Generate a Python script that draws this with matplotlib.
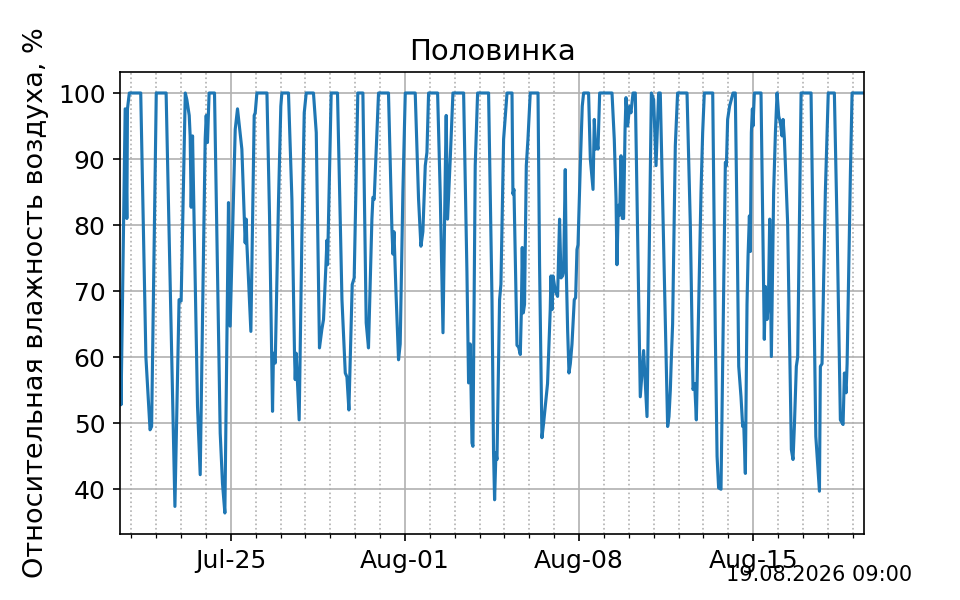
import numpy as np
import pandas as pd
import matplotlib
matplotlib.use('Agg')
import matplotlib.pyplot as plt
import matplotlib.dates as mdates

# hours since 2026-07-20 00:00 and relative humidity (%)
hours = [13, 14, 18, 19.6, 20.2, 22, 33, 38, 42, 43.5, 48, 57.5, 66, 70, 72, 76, 77.5, 79.8, 80.7, 81.7,
         83, 87.8, 90.4, 95.2, 96.2, 97.4, 99, 104.2, 109.7, 111.9, 114.2, 117.7, 119.3,
         124.2, 126.4, 130.6, 133.8, 134.8, 135.4, 139.3, 142.5, 143.5, 145.1, 154.8, 157.3, 160.2, 161.1,
         162.8, 166, 168.2, 169.2, 175.6, 178.9, 181.4, 182.1, 183, 185.9, 188.5, 190.8, 192.7, 199.7,
         202.4, 205.5, 207.8, 209.4, 211.7, 212.7, 213.3, 216.8, 222.9, 227.2, 230.4, 232, 233.9, 237.1,
         239, 242.5,
         247.4, 250.6, 252.8, 256.1, 257.1, 258.3, 262.5, 272.1, 275.4, 276.4, 277.4, 279.3, 281.8, 283.4,
         286, 288.3, 297.9, 301.1, 303.4, 305.3, 307.6, 309.2, 310.8, 319.5, 322, 324.7, 326.9, 327.8,
         329.1, 331.7, 334.3, 344.6, 347.8, 349.4, 351, 352.7, 353.6, 355.8, 358.1,
         368.7, 372, 373.5, 374.5, 375.8, 376.8, 379.3, 380.6, 383.2, 386.5, 391.3, 392.2, 393.2, 396.1,
         397.7, 399.3, 400.3, 401.2, 402.2, 403.4, 405.1, 406.7, 408.9, 416.4, 417.9, 420.2, 421.8, 424.4,
         425.6, 428.2, 428.9, 429.9, 430.9, 433.1, 435.3, 437.2, 438.6, 440.1, 441.1, 442.7, 443.7, 445,
         446.3, 447.6, 449.2, 451.4, 452.7, 454, 455, 457.2, 459.1, 460.4, 465.2, 466.9, 469.5, 470.7,
         472, 473.3, 474.3, 475.9,
         487.8, 490, 491.7, 492.6, 493.9, 495.2, 496.5, 497.8, 499, 500.4, 501.3, 502.9, 504.8, 506.1,
         508.1, 510.3, 515.1, 518.3, 519.6, 521.6, 525.8, 528, 530.3, 532.8, 534.4, 541.5, 542.8, 544.1,
         545, 546.3, 548.9, 551.1, 560.2, 563.4, 566, 567.6, 569.2, 571.4, 573.7, 575.3, 576.9, 585,
         587.5, 589.2, 590.7, 593, 595, 597.2, 598.2, 599.4, 601.3, 604.6, 606.8, 608.5, 610.1, 612.3,
         613.9, 614.9, 616.5, 618.1, 619.1, 620.4, 621.3, 622.3, 623.3, 623.9, 625.2, 631.6, 634.8, 635.8,
         637.4, 638.7, 640, 641.6, 643.8, 645.5, 647.1, 648.7, 650.3, 651.9, 652.9, 654.2, 657.3, 660.9,
         662.5, 663.8, 665.7, 667, 670.3, 679.9, 684.5, 688, 688.9, 690.5, 693.7, 696.5, 702.4, 705,
         708.2, 710.8, 712.1, 713.7, 714.7, 717.9, 719.5, 731]
rh = [68.5, 52.8, 97.6, 81, 97.6, 100, 100, 60, 49, 49.5, 100, 100, 37.4, 68.7, 68.5, 100, 99, 96.6, 93.5, 82.7,
      93.5, 52.6, 42.2, 93, 96.6, 92.5, 100, 100, 48.5, 40.9, 36.4, 83.4, 64.7,
      94.5, 97.6, 91.5, 77.3, 80.9, 77.3, 63.9, 96.6, 97, 100, 100, 81.4, 51.8, 60.6,
      59.1, 83.9, 98, 100, 100, 83.9, 60.6, 56.6, 60.6, 50.5, 78, 97, 100, 100,
      94, 61.4, 64.2, 65.7, 73.8, 77.7, 74, 100, 100, 68.7, 57.6, 57, 52, 71,
      72, 100,
      100, 65.2, 61.4, 80.9, 84.2, 83.9, 100, 100, 79.4, 75.6, 79, 70, 59.6, 62,
      85, 100, 100, 84, 76.8, 79, 89, 91, 100, 100, 85, 63.7, 88, 96.6,
      80.9, 90, 100, 100, 73, 56.1, 62, 47, 46.5, 89, 100,
      100, 68.7, 45.5, 38.4, 45.5, 44.5, 68.7, 71, 93, 100, 100, 84.7, 85.4, 61.8,
      61.5, 60.4, 66.7, 76.6, 66.7, 68, 89, 93, 100, 100, 74, 47.8, 50, 54,
      56, 67.2, 72.3, 67.2, 72.3, 70, 69.2, 80.9, 72, 72.3, 73, 88.4, 73, 64,
      57.6, 59, 62, 68.7, 69, 76.3, 77, 89, 98, 100, 100, 90, 85.4, 96,
      91.5, 92.5, 91.5, 100,
      100, 93, 84, 74, 83, 81.5, 90.5, 81, 81, 94.5, 99.3, 95, 98, 97,
      100, 100, 54, 61, 57, 51, 100, 99, 89, 100, 100, 49.5, 51, 55,
      59.5, 65, 92, 100, 100, 80, 55.1, 56, 50.5, 67, 85, 94, 100, 100,
      63.7, 45, 40.2, 40, 64, 89.5, 89, 96, 98, 100, 100, 80, 58.6, 54,
      49.5, 50, 42.4, 68, 75.3, 81.4, 76, 94, 97.6, 95, 100, 100, 62.7, 70.7,
      65.7, 68, 80.9, 60.1, 85, 94, 100, 96.5, 95.5, 93.5, 96, 93, 80.3, 46,
      44.5, 49.5, 58.6, 60, 100, 100, 48, 39.7, 58.6, 59, 85, 100, 100, 80,
      50.5, 49.8, 57.6, 54.6, 59, 88, 100, 100]

title = 'Половинка'
ylabel = 'Относительная влажность воздуха, %'
stamp = '19.08.2026 09:00'

t = pd.Timestamp('2026-07-20') + pd.to_timedelta(hours, unit='h')

fig, ax = plt.subplots(figsize=(6.4, 4), dpi=150)
ax.plot(t, rh, color='#1f77b4', linewidth=1.5)

ax.set_xlim(t[0], t[-1])
ax.xaxis.set_major_locator(mdates.WeekdayLocator(byweekday=mdates.SA))
ax.xaxis.set_minor_locator(mdates.DayLocator())
ax.xaxis.set_major_formatter(mdates.DateFormatter('%b-%d'))
ax.grid(which='major', color='#b0b0b0', linewidth=0.8)
ax.grid(which='minor', axis='x', color='#b0b0b0', linestyle=':', linewidth=0.8)

ax.tick_params(axis='x', labelsize=12)
ax.tick_params(axis='y', labelsize=12)
ax.set_title(title, fontsize=14)
ax.set_ylabel(ylabel, fontsize=13)
fig.text(0.95, 0.025, stamp, ha='right', va='bottom', fontsize=10)

fig.savefig('out.png', dpi=150)
